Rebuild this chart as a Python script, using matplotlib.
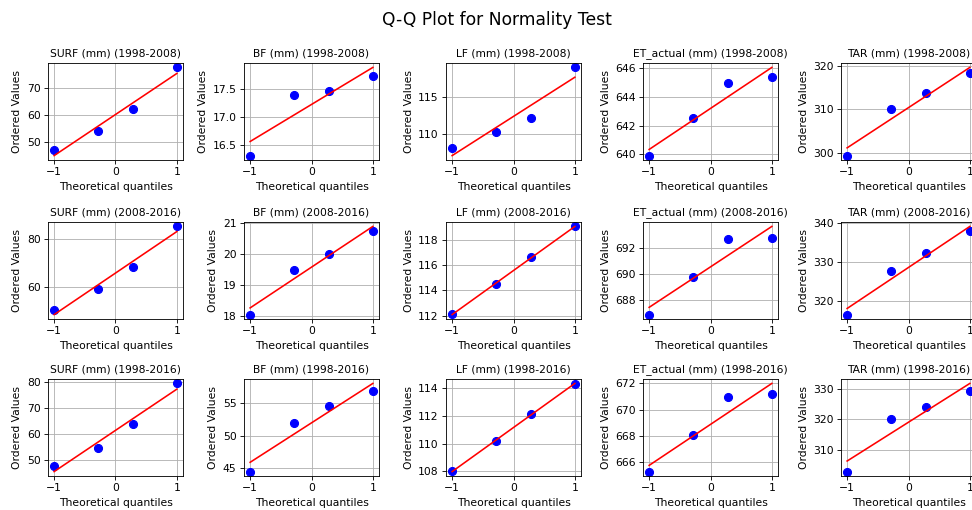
import numpy as np
import matplotlib
matplotlib.use("Agg")
import matplotlib.pyplot as plt

# theoretical normal quantiles for n=4 (Filliben plotting positions)
theo_q = [-0.998, -0.291, 0.291, 0.998]

variables = ["SURF (mm)", "BF (mm)", "LF (mm)", "ET_actual (mm)", "TAR (mm)"]
periods = ["1998-2008", "2008-2016", "1998-2016"]

# ordered values, one list per variable, per period
surf_98_08 = [47.2, 54.0, 62.2, 77.5]
bf_98_08 = [16.32, 17.40, 17.47, 17.73]
lf_98_08 = [108.1, 110.3, 112.2, 119.0]
et_98_08 = [639.9, 642.5, 645.0, 645.4]
tar_98_08 = [299.3, 310.0, 313.8, 318.3]

surf_08_16 = [50.5, 59.0, 68.5, 85.2]
bf_08_16 = [18.05, 19.50, 20.02, 20.75]
lf_08_16 = [112.1, 114.5, 116.6, 119.05]
et_08_16 = [686.9, 689.8, 692.7, 692.75]
tar_08_16 = [316.5, 327.6, 332.4, 338.0]

surf_98_16 = [47.6, 54.7, 63.6, 79.3]
bf_98_16 = [44.5, 52.0, 54.5, 56.9]
lf_98_16 = [108.0, 110.2, 112.1, 114.3]
et_98_16 = [665.3, 668.05, 671.0, 671.2]
tar_98_16 = [303.0, 320.0, 324.0, 329.2]

rows = [
    [surf_98_08, bf_98_08, lf_98_08, et_98_08, tar_98_08],
    [surf_08_16, bf_08_16, lf_08_16, et_08_16, tar_08_16],
    [surf_98_16, bf_98_16, lf_98_16, et_98_16, tar_98_16],
]

W, H = 972, 510
DPI = 77
fig, axs = plt.subplots(3, 5, figsize=(W / DPI, H / DPI), dpi=DPI)

# axes boxes in pixels (left edges, top/bottom of each row)
col_left = [48, 244, 446, 643, 841]
col_w = 135
row_top = [63, 222, 379]
row_h = 97

osm = np.array(theo_q)
for i in range(3):
    for j in range(5):
        ax = axs[i, j]
        ax.set_position([col_left[j] / W, 1 - (row_top[i] + row_h) / H,
                         col_w / W, row_h / H])
        osr = np.array(rows[i][j])
        slope, intercept = np.polyfit(osm, osr, 1)
        ax.plot(osm, osr, "bo", markersize=7.5)
        ax.plot(osm, slope * osm + intercept, "r-")
        ax.set_title(f"{variables[j]} ({periods[i]})", fontsize=10)
        ax.set_xlabel("Theoretical quantiles")
        ax.set_ylabel("Ordered Values")
        ax.grid(True)

fig.suptitle("Q-Q Plot for Normality Test", fontsize=16, x=497 / W, y=1 - 20 / H, va="center")
fig.savefig("out.png", dpi=DPI)
